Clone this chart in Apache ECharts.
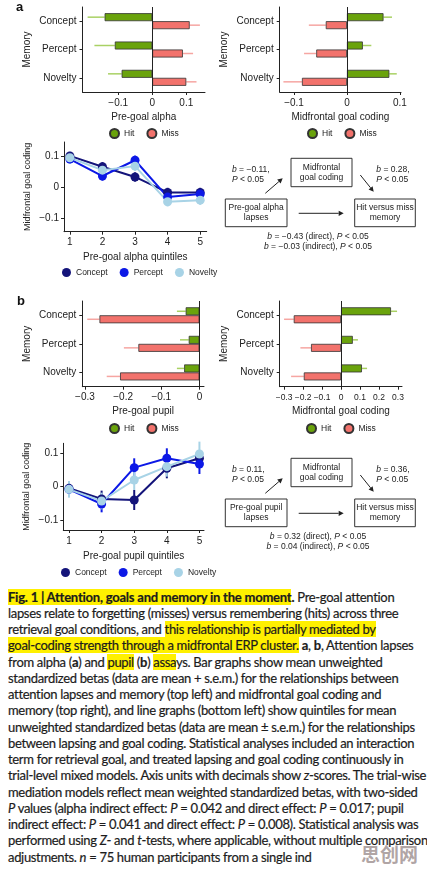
<!DOCTYPE html>
<html>
<head>
<meta charset="utf-8">
<script src="https://cdn.jsdelivr.net/npm/echarts@6/dist/echarts.min.js"></script>
<style>
  html, body { margin:0; padding:0; background:#fff; }
  #wrap { position:relative; width:427px; height:876px; overflow:hidden; }
  #main { position:absolute; left:0; top:0; width:427px; height:585px; }
  #cap { position:absolute; left:8px; top:588.5px; font-family:'Lato', sans-serif; font-size:13px; line-height:16.25px; color:#1c1c1c; -webkit-text-stroke:0.2px #1c1c1c; }
  #cap .ln { white-space:nowrap; }
  .hl { background:#fff000; }
  #wm { position:absolute; left:361px; top:840px; font-family:'Noto Sans CJK SC', sans-serif; font-weight:bold; font-size:19px; color:rgba(150,135,135,0.75); }
</style>
</head>
<body>
<div id="wrap">
  <div id="main"></div>
  <div id="cap">
    <div class="ln"><b class="hl">Fig. 1 | Attention, goals and memory in the moment</b><b>.</b> Pre-goal attention</div>
    <div class="ln" id="ref">lapses relate to forgetting (misses) versus remembering (hits) across three</div>
    <div class="ln">retrieval goal conditions, and <span class="hl">this relationship is partially mediated by</span></div>
    <div class="ln"><span class="hl">goal-coding strength through a midfrontal ERP cluster.</span> <b>a</b>, <b>b</b>, Attention lapses</div>
    <div class="ln">from alpha (<b>a</b>) and <span class="hl">pupil</span> (<b>b</b>) <span class="hl">assa</span>ys. Bar graphs show mean unweighted</div>
    <div class="ln">standardized betas (data are mean + s.e.m.) for the relationships between</div>
    <div class="ln">attention lapses and memory (top left) and midfrontal goal coding and</div>
    <div class="ln">memory (top right), and line graphs (bottom left) show quintiles for mean</div>
    <div class="ln">unweighted standardized betas (data are mean ± s.e.m.) for the relationships</div>
    <div class="ln">between lapsing and goal coding. Statistical analyses included an interaction</div>
    <div class="ln">term for retrieval goal, and treated lapsing and goal coding continuously in</div>
    <div class="ln">trial-level mixed models. Axis units with decimals show <i>z</i>-scores. The trial-wise</div>
    <div class="ln">mediation models reflect mean weighted standardized betas, with two-sided</div>
    <div class="ln"><i>P</i> values (alpha indirect effect: <i>P</i> = 0.042 and direct effect: <i>P</i> = 0.017; pupil</div>
    <div class="ln">indirect effect: <i>P</i> = 0.041 and direct effect: <i>P</i> = 0.008). Statistical analysis was</div>
    <div class="ln">performed using <i>Z</i>- and <i>t</i>-tests, where applicable, without multiple comparison</div>
    <div class="ln">adjustments. <i>n</i> = 75 human participants from a single ind</div>
  </div>
  <div id="wm">思创网</div>
</div>
<script>
// categories
var cats = ['Concept', 'Percept', 'Novelty'];
var quintiles = [1, 2, 3, 4, 5];

// a: pre-goal alpha vs memory (mean, s.e.m.)
var alphaHit = [-0.14, -0.11, -0.09];
var alphaHitSem = [0.05, 0.06, 0.04];
var alphaMiss = [0.11, 0.09, 0.10];
var alphaMissSem = [0.03, 0.03, 0.03];
// a: midfrontal goal coding vs memory
var codingAHit = [0.069, 0.030, 0.080];
var codingAHitSem = [0.016, 0.016, 0.014];
var codingAMiss = [-0.040, -0.058, -0.085];
var codingAMissSem = [0.032, 0.023, 0.035];
// a: alpha quintiles
var alphaConcept = [0.100, 0.065, 0.032, -0.018, -0.018];
var alphaConceptSem = [0.012, 0.015, 0.015, 0.015, 0.015];
var alphaPercept = [0.090, 0.035, 0.086, -0.033, -0.023];
var alphaPerceptSem = [0.015, 0.015, 0.015, 0.015, 0.015];
var alphaNovelty = [0.094, 0.054, 0.067, -0.048, -0.043];
var alphaNoveltySem = [0.02, 0.015, 0.015, 0.015, 0.015];

// b: pre-goal pupil vs memory
var pupilHit = [-0.036, -0.028, -0.040];
var pupilHitSem = [0.023, 0.023, 0.019];
var pupilMiss = [-0.262, -0.160, -0.208];
var pupilMissSem = [0.032, 0.038, 0.035];
// b: midfrontal goal coding vs memory
var codingBHit = [0.263, 0.062, 0.110];
var codingBHitSem = [0.032, 0.027, 0.027];
var codingBMiss = [-0.249, -0.158, -0.196];
var codingBMissSem = [0.051, 0.056, 0.067];
// b: pupil quintiles
var pupilConcept = [-0.005, -0.037, -0.040, 0.055, 0.085];
var pupilConceptSem = [0.02, 0.025, 0.03, 0.03, 0.025];
var pupilPercept = [-0.008, -0.052, 0.057, 0.085, 0.068];
var pupilPerceptSem = [0.02, 0.025, 0.028, 0.03, 0.03];
var pupilNovelty = [-0.008, -0.043, 0.020, 0.060, 0.098];
var pupilNoveltySem = [0.025, 0.025, 0.03, 0.03, 0.037];

var FONT = 'Liberation Sans';
var INK = '#222';
var HIT = '#6aa30c', HIT_ERR = '#a9d164';
var MISS = '#f2726c', MISS_ERR = '#f6a6a2';
var C_CONCEPT = '#14147a', C_PERCEPT = '#0c18e6', C_NOVELTY = '#a8d3e6';

function fmtTick(v) {
  var r = Math.round(v * 10) / 10;
  if (r === 0) return '0';
  return (r < 0 ? '\u2212' : '') + Math.abs(r);
}

function barXAxis(gi, min, max, ticks, name, fs) {
  return {
    gridIndex: gi, type: 'value', min: min, max: max,
    name: name, nameLocation: 'middle', nameGap: 20,
    nameTextStyle: { fontSize: 10, color: INK, fontFamily: FONT },
    axisLine: { show: true, onZero: false, lineStyle: { color: INK } },
    axisTick: { show: true, length: 3, customValues: ticks, lineStyle: { color: INK } },
    axisLabel: { customValues: ticks, fontSize: fs || 10, color: INK, fontFamily: FONT, margin: 6,
                 hideOverlap: false, formatter: fmtTick },
    splitLine: { show: false }
  };
}
function barYAxis(gi, gap) {
  return {
    gridIndex: gi, type: 'category', data: cats, inverse: true,
    name: 'Memory', nameLocation: 'middle', nameGap: gap, nameRotate: 90,
    nameTextStyle: { fontSize: 10, color: INK, fontFamily: FONT },
    axisLine: { show: true, onZero: false, lineStyle: { color: INK } },
    axisTick: { show: true, alignWithLabel: true, length: 3, lineStyle: { color: INK } },
    axisLabel: { fontSize: 10, color: INK, fontFamily: FONT, margin: 6 }
  };
}
function lineXAxis(gi, min, max, name) {
  return {
    gridIndex: gi, type: 'value', min: min, max: max,
    name: name, nameLocation: 'middle', nameGap: 21,
    nameTextStyle: { fontSize: 10, color: INK, fontFamily: FONT },
    axisLine: { show: true, onZero: false, lineStyle: { color: INK } },
    axisTick: { show: true, length: 3, customValues: quintiles, lineStyle: { color: INK } },
    axisLabel: { customValues: quintiles, fontSize: 10, color: INK, fontFamily: FONT, margin: 6 },
    splitLine: { show: false }
  };
}
function lineYAxis(gi, min, max) {
  var t = [-0.1, 0, 0.1];
  return {
    gridIndex: gi, type: 'value', min: min, max: max,
    name: 'Midfrontal goal coding', nameLocation: 'middle', nameGap: 32, nameRotate: 90,
    nameTextStyle: { fontSize: 9, color: INK, fontFamily: FONT },
    axisLine: { show: true, onZero: false, lineStyle: { color: INK } },
    axisTick: { show: true, length: 3, customValues: t, lineStyle: { color: INK } },
    axisLabel: { customValues: t, fontSize: 10, color: INK, fontFamily: FONT, margin: 5, formatter: fmtTick },
    splitLine: { show: false }
  };
}

function barSeries(gi, name, vals, color, zero) {
  var s = {
    type: 'bar', name: name, xAxisIndex: gi, yAxisIndex: gi, data: vals,
    barWidth: 8, barGap: '0%', z: 3,
    itemStyle: { color: color, borderColor: '#333', borderWidth: 0.8 }
  };
  if (zero) {
    s.markLine = {
      silent: true, symbol: 'none', label: { show: false },
      lineStyle: { color: INK, type: 'solid', width: 1 },
      data: [{ xAxis: 0 }]
    };
  }
  return s;
}
function barErr(gi, vals, sems, off, color) {
  return {
    type: 'custom', name: 'err', xAxisIndex: gi, yAxisIndex: gi, z: 1, silent: true,
    data: vals.map(function (m, i) { return [i, m, m + Math.sign(m) * sems[i]]; }),
    encode: { x: [1, 2], y: 0 },
    renderItem: function (p, api) {
      var a = api.coord([api.value(1), api.value(0)]);
      var b = api.coord([api.value(2), api.value(0)]);
      return { type: 'line', shape: { x1: a[0], y1: a[1] + off, x2: b[0], y2: b[1] + off },
               style: { stroke: color, lineWidth: 1.5 } };
    }
  };
}
function lineSeries(gi, name, vals, color) {
  return {
    type: 'line', name: name, xAxisIndex: gi, yAxisIndex: gi,
    data: vals.map(function (v, i) { return [quintiles[i], v]; }),
    symbol: 'circle', symbolSize: 9, showSymbol: true,
    lineStyle: { color: color, width: 2 }, itemStyle: { color: color }
  };
}
function lineErr(gi, vals, sems, color) {
  return {
    type: 'custom', name: 'err', xAxisIndex: gi, yAxisIndex: gi, silent: true,
    data: vals.map(function (v, i) { return [quintiles[i], v - sems[i], v + sems[i]]; }),
    encode: { x: 0, y: [1, 2] },
    renderItem: function (p, api) {
      var a = api.coord([api.value(0), api.value(1)]);
      var b = api.coord([api.value(0), api.value(2)]);
      return { type: 'line', shape: { x1: a[0], y1: a[1], x2: b[0], y2: b[1] },
               style: { stroke: color, lineWidth: 2 } };
    }
  };
}
function legend(left, top, names) {
  return {
    left: left, top: top, data: names, icon: 'circle', itemWidth: 9, itemHeight: 9, itemGap: 12,
    selectedMode: false, padding: 0,
    textStyle: { fontSize: 8.5, color: INK, fontFamily: FONT }
  };
}

// mediation diagram pieces
var RICH = { i: { fontStyle: 'italic', fontSize: 8.5, fontFamily: FONT, fill: INK } };
function txt(x, y, text, align) {
  return { type: 'text', x: x, y: y, silent: true,
    style: { text: text, fill: INK, fontSize: 8.5, fontFamily: FONT, lineHeight: 10,
             align: align || 'center', verticalAlign: 'middle', rich: RICH } };
}
function box(x, y, w, h, label) {
  return [
    { type: 'rect', shape: { x: x, y: y, width: w, height: h }, style: { fill: '#fff', stroke: '#333', lineWidth: 1 } },
    txt(x + w / 2, y + h / 2, label)
  ];
}
function arrow(x1, y1, x2, y2) {
  var a = Math.atan2(y2 - y1, x2 - x1), L = 5, W = 2.6;
  var bx = x2 - L * Math.cos(a), by = y2 - L * Math.sin(a);
  return [
    { type: 'line', shape: { x1: x1, y1: y1, x2: bx, y2: by }, style: { stroke: INK, lineWidth: 1 } },
    { type: 'polygon', shape: { points: [[x2, y2], [bx + W * Math.sin(a), by - W * Math.cos(a)], [bx - W * Math.sin(a), by + W * Math.cos(a)]] },
      style: { fill: INK } }
  ];
}
function diagram(oy, lapse, bL, bR, d1, d2) {
  var el = [];
  el = el.concat(box(291, oy + 23.3, 61, 28.4, 'Midfrontal\ngoal coding'));
  el = el.concat(box(225.3, oy + 64, 61.7, 27.7, lapse));
  el = el.concat(box(354.7, oy + 64, 60.6, 27.7, 'Hit versus miss\nmemory'));
  el = el.concat(arrow(265.3, oy + 58.3, 282.7, oy + 43.3));
  el = el.concat(arrow(360.3, oy + 40, 373.7, oy + 56.7));
  el = el.concat(arrow(298.7, oy + 78.3, 343.7, oy + 78.3));
  el.push(txt(232, oy + 35, '{i|b} = ' + bL + ',', 'left'));
  el.push(txt(232, oy + 45, '{i|P} < 0.05', 'left'));
  el.push(txt(376.3, oy + 35, '{i|b} = ' + bR + ',', 'left'));
  el.push(txt(376.3, oy + 45, '{i|P} < 0.05', 'left'));
  el.push(txt(318, oy + 101.7, '{i|b} = ' + d1 + ' (direct), {i|P} < 0.05'));
  el.push(txt(318, oy + 111.7, '{i|b} = ' + d2 + ' (indirect), {i|P} < 0.05'));
  return el;
}

var graphics = [
  { type: 'text', x: 16, y: 1, style: { text: 'a', fontSize: 13, fontWeight: 'bold', fontFamily: FONT, fill: '#111' } },
  { type: 'text', x: 17, y: 295, style: { text: 'b', fontSize: 13, fontWeight: 'bold', fontFamily: FONT, fill: '#111' } }
].concat(
  diagram(135, 'Pre-goal alpha\nlapses', '\u22120.11', '0.28', '\u22120.43', '\u22120.03'),
  diagram(435, 'Pre-goal pupil\nlapses', '0.11', '0.36', '0.32', '0.04')
);

var chart = echarts.init(document.getElementById('main'), null, { renderer: 'canvas' });
chart.setOption({
  animation: false,
  textStyle: { fontFamily: FONT },
  grid: [
    { left: 82.5, top: 7, width: 122.5, height: 85 },
    { left: 279.7, top: 7, width: 121.3, height: 85 },
    { left: 64, top: 142, width: 142.7, height: 89.7 },
    { left: 82.3, top: 301, width: 121.7, height: 85.7 },
    { left: 279.7, top: 301, width: 122.3, height: 85.7 },
    { left: 63.3, top: 443.3, width: 140.7, height: 86.7 }
  ],
  xAxis: [
    barXAxis(0, -0.205, 0.155, [-0.1, 0, 0.1], 'Pre-goal alpha'),
    barXAxis(1, -0.127, 0.102, [-0.1, 0, 0.1], 'Midfrontal goal coding'),
    lineXAxis(2, 0.82, 5.2, 'Pre-goal alpha quintiles'),
    barXAxis(3, -0.307, 0.012, [-0.3, -0.2, -0.1, 0], 'Pre-goal pupil'),
    barXAxis(4, -0.323, 0.321, [-0.3, -0.2, -0.1, 0, 0.1, 0.2, 0.3], 'Midfrontal goal coding', 8.5),
    lineXAxis(5, 0.825, 5.14, 'Pre-goal pupil quintiles')
  ],
  yAxis: [
    barYAxis(0, 50),
    barYAxis(1, 50),
    lineYAxis(2, -0.145, 0.145),
    barYAxis(3, 50),
    barYAxis(4, 50),
    lineYAxis(5, -0.13, 0.13)
  ],
  legend: [
    legend(109, 128, ['Hit', 'Miss']),
    legend(307, 128, ['Hit', 'Miss']),
    legend(62, 268, ['Concept', 'Percept', 'Novelty']),
    legend(109, 423, ['Hit', 'Miss']),
    legend(306, 423, ['Hit', 'Miss']),
    legend(61, 568, ['Concept', 'Percept', 'Novelty'])
  ],
  graphic: graphics,
  series: [
    barErr(0, alphaHit, alphaHitSem, -4, HIT_ERR),
    barErr(0, alphaMiss, alphaMissSem, 4, MISS_ERR),
    barSeries(0, 'Hit', alphaHit, HIT, true),
    barSeries(0, 'Miss', alphaMiss, MISS),

    barErr(1, codingAHit, codingAHitSem, -4, HIT_ERR),
    barErr(1, codingAMiss, codingAMissSem, 4, MISS_ERR),
    barSeries(1, 'Hit', codingAHit, HIT, true),
    barSeries(1, 'Miss', codingAMiss, MISS),

    lineErr(2, alphaConcept, alphaConceptSem, C_CONCEPT),
    lineSeries(2, 'Concept', alphaConcept, C_CONCEPT),
    lineErr(2, alphaPercept, alphaPerceptSem, C_PERCEPT),
    lineSeries(2, 'Percept', alphaPercept, C_PERCEPT),
    lineErr(2, alphaNovelty, alphaNoveltySem, C_NOVELTY),
    lineSeries(2, 'Novelty', alphaNovelty, C_NOVELTY),

    barErr(3, pupilHit, pupilHitSem, -4, HIT_ERR),
    barErr(3, pupilMiss, pupilMissSem, 4, MISS_ERR),
    barSeries(3, 'Hit', pupilHit, HIT, true),
    barSeries(3, 'Miss', pupilMiss, MISS),

    barErr(4, codingBHit, codingBHitSem, -4, HIT_ERR),
    barErr(4, codingBMiss, codingBMissSem, 4, MISS_ERR),
    barSeries(4, 'Hit', codingBHit, HIT, true),
    barSeries(4, 'Miss', codingBMiss, MISS),

    lineErr(5, pupilConcept, pupilConceptSem, C_CONCEPT),
    lineSeries(5, 'Concept', pupilConcept, C_CONCEPT),
    lineErr(5, pupilPercept, pupilPerceptSem, C_PERCEPT),
    lineSeries(5, 'Percept', pupilPercept, C_PERCEPT),
    lineErr(5, pupilNovelty, pupilNoveltySem, C_NOVELTY),
    lineSeries(5, 'Novelty', pupilNovelty, C_NOVELTY)
  ]
});

// fit caption letter spacing so the reference line spans the same width as in the figure
function textWidth(el) {
  var r = document.createRange();
  r.selectNodeContents(el);
  return r.getBoundingClientRect().width;
}
function fitCaption() {
  var ref = document.getElementById('ref');
  var cap = document.getElementById('cap');
  cap.style.letterSpacing = '0px';
  var w = textWidth(ref);
  var n = ref.textContent.length;
  var ls = (390 - w) / n;
  cap.style.letterSpacing = ls.toFixed(3) + 'px';
  var bolds = cap.querySelectorAll('b');
  for (var i = 0; i < bolds.length; i++) bolds[i].style.letterSpacing = (ls + 0.1).toFixed(3) + 'px';
}
fitCaption();
if (document.fonts && document.fonts.ready) document.fonts.ready.then(fitCaption);
</script>
</body>
</html>
